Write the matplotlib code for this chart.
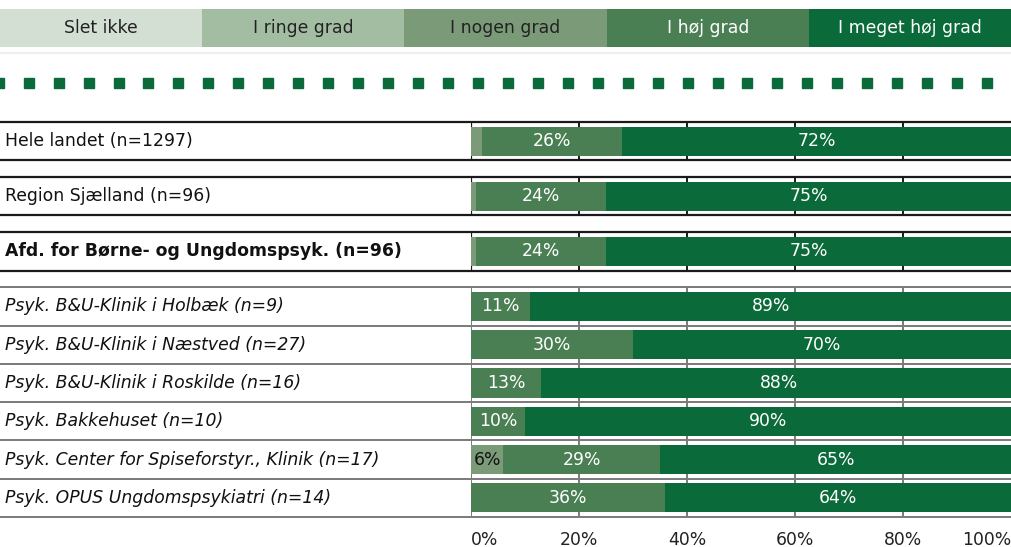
import numpy as np
import matplotlib
matplotlib.use("Agg")
import matplotlib.pyplot as plt
from matplotlib.lines import Line2D
from matplotlib.transforms import blended_transform_factory

# legend categories and colours
categories = ['Slet ikke', 'I ringe grad', 'I nogen grad', 'I høj grad', 'I meget høj grad']
cat_colors = ['#d3dfd3', '#a3bda3', '#7a9a78', '#4a7f53', '#0b6a3a']
cat_text = ['#222222', '#222222', '#222222', 'white', 'white']

# rows
row_labels = [
    'Hele landet (n=1297)',
    'Region Sjælland (n=96)',
    'Afd. for Børne- og Ungdomspsyk. (n=96)',
    'Psyk. B&U-Klinik i Holbæk (n=9)',
    'Psyk. B&U-Klinik i Næstved (n=27)',
    'Psyk. B&U-Klinik i Roskilde (n=16)',
    'Psyk. Bakkehuset (n=10)',
    'Psyk. Center for Spiseforstyr., Klinik (n=17)',
    'Psyk. OPUS Ungdomspsykiatri (n=14)',
]
row_styles = ['normal', 'normal', 'bold'] + ['italic'] * 6

# percentages per answer category
slet_ikke = [0, 0, 0, 0, 0, 0, 0, 0, 0]
ringe = [0, 0, 0, 0, 0, 0, 0, 0, 0]
nogen = [2, 1, 1, 0, 0, 0, 0, 6, 0]
hoej = [26, 24, 24, 11, 30, 13, 10, 29, 36]
meget_hoej = [72, 75, 75, 89, 70, 88, 90, 65, 64]

tick_vals = [0, 20, 40, 60, 80, 100]
tick_labels = ['0%', '20%', '40%', '60%', '80%', '100%']

W, H = 1011, 547
fig = plt.figure(figsize=(W / 100, H / 100), dpi=100)
plt.rcParams['font.family'] = ['DejaVu Sans']
FS = 12.4

# ---- legend strip ----
lax = fig.add_axes([0, 1 - 47 / H, 1, 38 / H])
lax.set_xlim(0, len(categories))
lax.set_ylim(0, 1)
lax.axis('off')
for i, (c, col, tc) in enumerate(zip(categories, cat_colors, cat_text)):
    lax.barh(0.5, 1, left=i, height=1, color=col, edgecolor='none')
    lax.text(i + 0.5, 0.5, c, ha='center', va='center', color=tc, fontsize=12.4)
fig.add_artist(Line2D([0, 1], [1 - 53 / H] * 2, color='#eeeeee', lw=1.5))

# ---- dotted separator ----
dax = fig.add_axes([0, 1 - 93 / H, 1, 20 / H])
dax.set_xlim(0, W)
dax.set_ylim(0, 1)
dax.axis('off')
dot_x = -1.3 + 29.95 * np.arange(35)
dax.plot(dot_x, np.full(len(dot_x), 0.5), ls='none', marker='s', ms=7.0,
         color='#0b6a3a', clip_on=True)

# ---- main bars ----
left_px, right_px, top_px, bot_px = 471, 1011, 122, 517
ax = fig.add_axes([left_px / W, 1 - bot_px / H, (right_px - left_px) / W, (bot_px - top_px) / H])
row_y = np.array([0, 1.44, 2.88, 4.32, 5.32, 6.32, 7.32, 8.32, 9.32])
ax.set_xlim(0, 100)
ax.set_ylim(row_y[-1] + 0.5, -0.5)
for s in ax.spines.values():
    s.set_visible(False)
ax.set_yticks([])

xmin_fig = -left_px / (right_px - left_px)
grid_x = [20, 40, 60, 80]

# top three rows: black frames
for y in row_y[:3]:
    for yy in (y - 0.5, y + 0.5):
        ax.axhline(yy, xmin=xmin_fig, xmax=1, color='#1a1a1a', lw=1.6, clip_on=False, zorder=1)
    ax.vlines([0], y - 0.5, y + 0.5, color='#1a1a1a', lw=1.6, zorder=1)
    ax.vlines(grid_x, y - 0.5, y + 0.5, color='#1a1a1a', lw=1.4, zorder=0)

# lower rows: grey frames
low = row_y[3:]
for yy in list(low - 0.5) + [low[-1] + 0.5]:
    ax.axhline(yy, xmin=xmin_fig, xmax=1, color='#7a7a7a', lw=1.4, clip_on=False, zorder=1)
ax.vlines([0], low[0] - 0.5, low[-1] + 0.5, color='#7a7a7a', lw=1.4, zorder=1)
ax.vlines(grid_x, low[0] - 0.5, low[-1] + 0.5, color='#7a7a7a', lw=1.4, zorder=0)

series = [slet_ikke, ringe, nogen, hoej, meget_hoej]
bh = 0.76
lefts = np.zeros(len(row_labels))
for vals, col, tc in zip(series, cat_colors, cat_text):
    vals = np.array(vals, dtype=float)
    ax.barh(row_y, vals, left=lefts, height=bh, color=col, edgecolor='none', zorder=2)
    for y, l, v in zip(row_y, lefts, vals):
        if v >= 5:
            ax.text(l + v / 2, y, f'{int(v)}%', ha='center', va='center',
                    color='#111111' if tc != 'white' else 'white', fontsize=FS, zorder=3)
    lefts += vals

# row labels in left column
trans = blended_transform_factory(fig.transFigure, ax.transData)
for y, lab, st in zip(row_y, row_labels, row_styles):
    ax.text(5 / W, y, lab, transform=trans, ha='left', va='center', fontsize=FS,
            color='#111111', fontweight='bold' if st == 'bold' else 'normal',
            fontstyle='italic' if st == 'italic' else 'normal')

ax.set_xticks(tick_vals)
ax.set_xticklabels(tick_labels, fontsize=FS, color='#222222')
ax.tick_params(axis='x', length=0, pad=10)
tl = ax.get_xticklabels()
tl[0].set_ha('left')
tl[-1].set_ha('right')

fig.savefig('out.png', dpi=100)
